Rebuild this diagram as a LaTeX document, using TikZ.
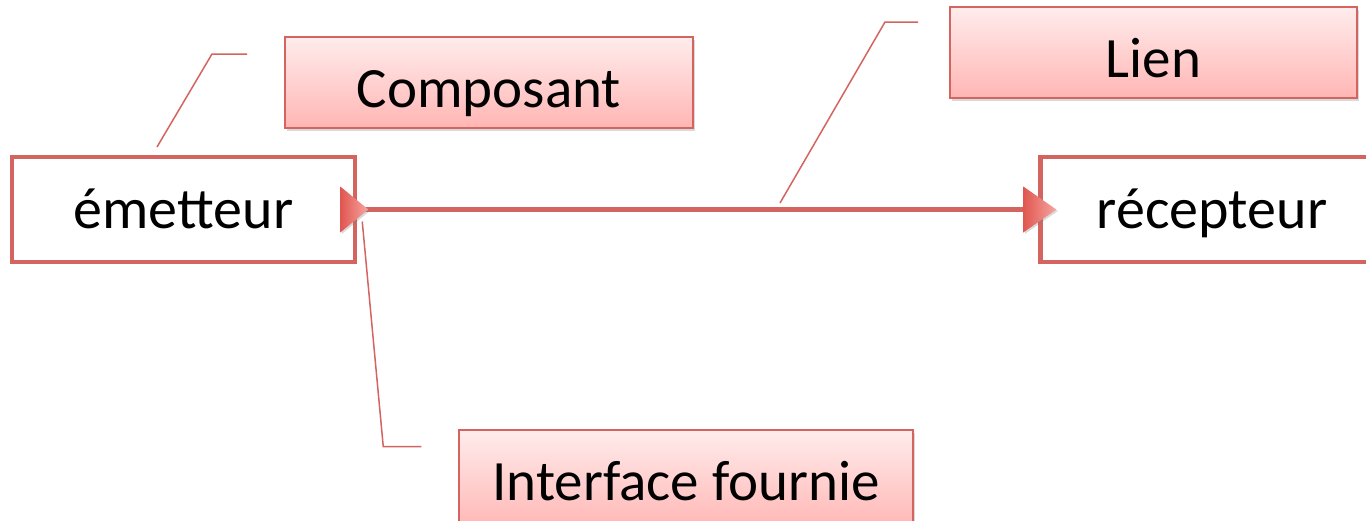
\documentclass[tikz,border=0pt]{standalone}
\usepackage{fontspec}
\setmainfont{Carlito}
\usetikzlibrary{positioning}
\usetikzlibrary{shadows}

\definecolor{edge}{RGB}{212,100,95}
\definecolor{notetop}{RGB}{255,236,236}
\definecolor{notebot}{RGB}{255,182,180}
\definecolor{tipdark}{RGB}{224,86,80}
\definecolor{tiplight}{RGB}{247,165,160}

\tikzset{
  comp/.style={draw=edge, line width=4.5pt, fill=white, inner sep=0pt,
    minimum width=343pt, minimum height=105pt, text height=37pt, text depth=0pt,
    font=\fontsize{58pt}{66pt}\selectfont},
  note/.style={draw=edge, line width=1.5pt, top color=notetop, bottom color=notebot,
    inner sep=0pt, minimum height=91pt, text height=50pt, text depth=0pt,
    font=\fontsize{57pt}{66pt}\selectfont,
    drop shadow={opacity=.3, shadow xshift=2pt, shadow yshift=-2.5pt}},
  lead/.style={draw=edge, line width=1.5pt},
  link/.style={draw=edge, line width=4.5pt},
  tip/.style={left color=tipdark, right color=tiplight,
    drop shadow={opacity=.3, shadow xshift=1.5pt, shadow yshift=-1.5pt}}
}

\begin{document}
\begin{tikzpicture}[x=1pt,y=-1pt]
\clip (0,0) rectangle (1366,520);
% components
  \node (emit) [comp] at (183.5,209.5) {émetteur};
  \node (recv) [comp, right=681pt of emit] {récepteur};
% notes
  \node (compnote) [note, minimum width=408pt] at (489,82.5) {Composant};
  \node (liennote) [note, minimum width=407pt] at (1153.5,52.5) {Lien};
  \node (ifnote) [note, minimum width=454pt, minimum height=100pt, text height=40pt]
    at (686,480) {Interface fournie};
% link with its two triangles
\draw [link] (emit.east) -- (recv.west);
\coordinate (port) at ([xshift=-3pt]emit.east);
\coordinate (recvtip) at ([xshift=2pt]recv.west);
\path [tip, shift={(port)}] (-14,-23) -- (14,0) -- (-14,23) -- cycle;
\path [tip, shift={(recvtip)}] (-17,-23) -- (16,0) -- (-17,23) -- cycle;
% leader lines
\coordinate (complead) at (157,147);
\coordinate (linklead) at (780,203);
\draw [lead] (complead) -- ++(55,-93) -- ++(35,0);
\draw [lead] (linklead) -- ++(105,-181) -- ++(33,0);
\draw [lead] ([xshift=8pt,yshift=-12pt]port) -- ++(21,225) -- ++(38,0);
\end{tikzpicture}
\end{document}
